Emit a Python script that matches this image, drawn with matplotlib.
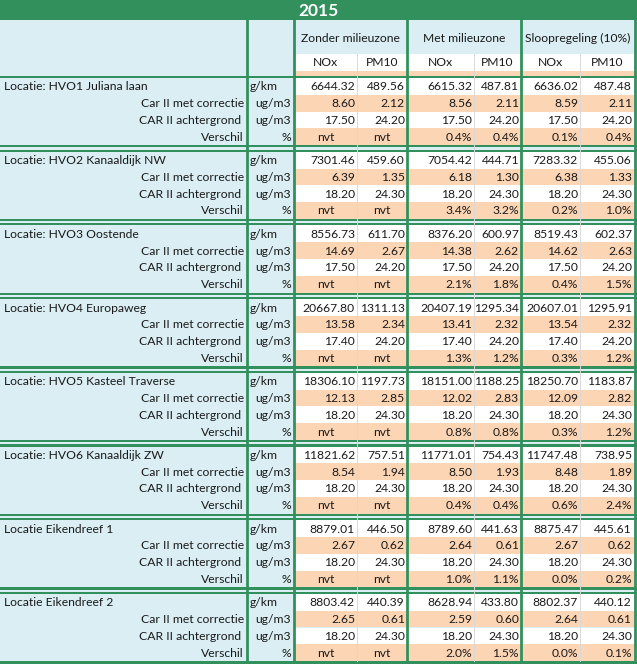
import matplotlib
matplotlib.use("Agg")
import matplotlib.pyplot as plt
from matplotlib.patches import Rectangle

plt.rcParams['font.family'] = ['Lato', 'DejaVu Sans']

jaar = "2015"
scenarios = ["Zonder milieuzone", "Met milieuzone", "Sloopregeling (10%)"]
stoffen = ["NOx", "PM10"]
rij_labels = ["Car II met correctie", "CAR II achtergrond ", "Verschil"]
eenheden = ["g/km", "ug/m3", "ug/m3", "%"]

locaties = [
    "Locatie: HVO1 Juliana laan",
    "Locatie: HVO2 Kanaaldijk NW",
    "Locatie: HVO3 Oostende",
    "Locatie: HVO4 Europaweg",
    "Locatie: HVO5 Kasteel Traverse",
    "Locatie: HVO6 Kanaaldijk ZW",
    "Locatie Eikendreef 1",
    "Locatie Eikendreef 2",
]

# emissie g/km: NOx, PM10 per scenario (zonder, met, sloop)
emissie = [
    [6644.32, 489.56, 6615.32, 487.81, 6636.02, 487.48],
    [7301.46, 459.60, 7054.42, 444.71, 7283.32, 455.06],
    [8556.73, 611.70, 8376.20, 600.97, 8519.43, 602.37],
    [20667.80, 1311.13, 20407.19, 1295.34, 20607.01, 1295.91],
    [18306.10, 1197.73, 18151.00, 1188.25, 18250.70, 1183.87],
    [11821.62, 757.51, 11771.01, 754.43, 11747.48, 738.95],
    [8879.01, 446.50, 8789.60, 441.63, 8875.47, 445.61],
    [8803.42, 440.39, 8628.94, 433.80, 8802.37, 440.12],
]
car_correctie = [
    [8.60, 2.12, 8.56, 2.11, 8.59, 2.11],
    [6.39, 1.35, 6.18, 1.30, 6.38, 1.33],
    [14.69, 2.67, 14.38, 2.62, 14.62, 2.63],
    [13.58, 2.34, 13.41, 2.32, 13.54, 2.32],
    [12.13, 2.85, 12.02, 2.83, 12.09, 2.82],
    [8.54, 1.94, 8.50, 1.93, 8.48, 1.89],
    [2.67, 0.62, 2.64, 0.61, 2.67, 0.62],
    [2.65, 0.61, 2.59, 0.60, 2.64, 0.61],
]
# achtergrond NOx, PM10 (gelijk voor alle scenario's)
achtergrond = [
    [17.50, 24.20], [18.20, 24.30], [17.50, 24.20], [17.40, 24.20],
    [18.20, 24.30], [18.20, 24.30], [18.20, 24.30], [18.20, 24.30],
]
# verschil in %, None = nvt
verschil = [
    [None, None, 0.4, 0.4, 0.1, 0.4],
    [None, None, 3.4, 3.2, 0.2, 1.0],
    [None, None, 2.1, 1.8, 0.4, 1.5],
    [None, None, 1.3, 1.2, 0.3, 1.2],
    [None, None, 0.8, 0.8, 0.3, 1.2],
    [None, None, 0.4, 0.4, 0.6, 2.4],
    [None, None, 1.0, 1.1, 0.0, 0.2],
    [None, None, 2.0, 1.5, 0.0, 0.1],
]

# kleuren
groen = '#32905c'
lichtblauw = '#daeef3'
oranje = '#fcd5b4'
grijs = '#d9d9d9'
tekst = '#1a1a1a'
fs = 8.7

W, H = 637, 664
fig = plt.figure(figsize=(W / 100, H / 100), dpi=100)
ax = fig.add_axes([0, 0, 1, 1])
ax.set_xlim(0, W)
ax.set_ylim(H, 0)
ax.axis('off')


def rect(x0, y0, x1, y1, c):
    ax.add_patch(Rectangle((x0, y0), x1 - x0, y1 - y0, facecolor=c, edgecolor='none', lw=0))


def txt(x, y, s, ha):
    ax.text(x, y, s, fontsize=fs, ha=ha, va='center', color=tekst)


# kolomgrenzen
xl, xu = 247, 294
cols = [294, 357, 407, 474, 521, 580, 634]
groep_lijnen = [247, 294, 407, 521, 635]

# titel
rect(0, 0, W, 20, groen)
ax.text(W / 2, 10.5, jaar, color='white', fontsize=12.5, fontweight='bold', ha='center', va='center')

# kop
rect(0, 20, W, 77, lichtblauw)
rect(cols[0], 54, cols[-1], 71, 'white')
rect(cols[0], 71, cols[-1], 76, oranje)
for i, s in enumerate(scenarios):
    txt((cols[2 * i] + cols[2 * i + 2]) / 2, 38, s, 'center')
    for j, st in enumerate(stoffen):
        c0, c1 = cols[2 * i + j], cols[2 * i + j + 1]
        txt((c0 + c1) / 2, 63, st, 'center')

# blokken
top0 = 78
pitch = 73.7
rh = 16.8
rect(0, top0 - 2, W, top0, groen)

for b, loc in enumerate(locaties):
    yt = top0 + b * pitch
    rect(0, yt, W, yt + 4 * rh, lichtblauw)
    for r in range(4):
        y0 = yt + r * rh
        rect(cols[0], y0, cols[-1], y0 + rh, oranje if r % 2 else 'white')
        yc = y0 + rh / 2 + 0.5
        if r == 0:
            txt(4, yc, loc, 'left')
            txt(xl + 3, yc, eenheden[r], 'left')
        else:
            txt(xl - 3, yc, rij_labels[r - 1], 'right')
            txt(xu - 3, yc, eenheden[r], 'right')
        for k in range(6):
            c0, c1 = cols[k], cols[k + 1]
            if r == 0:
                v = emissie[b][k]
            elif r == 1:
                v = car_correctie[b][k]
            elif r == 2:
                v = achtergrond[b][k % 2]
            else:
                v = verschil[b][k]
            if r == 3:
                if v is None:
                    txt((c0 + c1) / 2, yc, 'nvt', 'center')
                else:
                    txt(c1 - 2, yc, '%.1f%%' % v, 'right')
            else:
                txt(c1 - 2, yc, '%.2f' % v, 'right')
    yb = yt + 4 * rh
    if b < len(locaties) - 1:
        rect(0, yb, W, yb + 2.2, groen)
        rect(0, yb + 2.2, W, yt + pitch - 2.2, lichtblauw)
        rect(0, yt + pitch - 2.2, W, yt + pitch, groen)
    else:
        rect(0, yb, W, H, groen)

# verticale lijnen
for x in [357, 474, 580]:
    ax.plot([x, x], [54, H - 3], color=grijs, lw=0.7, zorder=3)
for x in groep_lijnen:
    ax.plot([x, x], [20, H], color=groen, lw=2.0, zorder=4)

fig.savefig('out.png', dpi=100)
